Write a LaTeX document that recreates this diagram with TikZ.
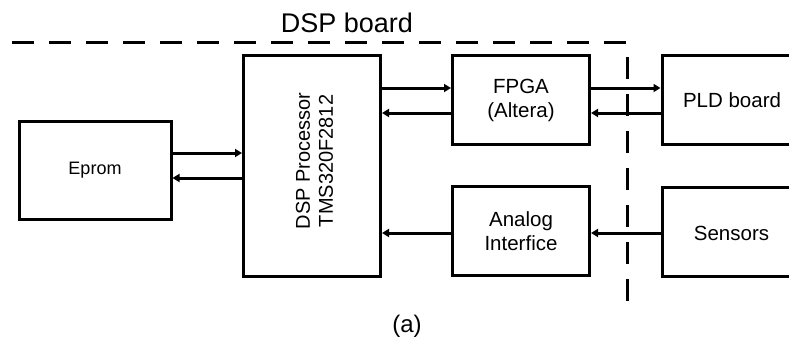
\documentclass[tikz,border=0pt]{standalone}
\usepackage{fontspec}
\setmainfont{Liberation Sans}
\usetikzlibrary{arrows.meta}
\tikzset{
  blk/.style={draw, line width=3pt, rectangle, inner sep=0pt, align=center},
  conn/.style={line width=3pt, -{Triangle[length=7pt,width=8pt]}},
  board/.style={line width=3pt, dash pattern=on 22pt off 15pt},
  txt/.style={font=\fontsize{20.5}{24}\selectfont}
}
\begin{document}
\begin{tikzpicture}[x=1pt,y=-1pt]
\fill[white] (0,0) rectangle (789,345);
\useasboundingbox (0,0) rectangle (789,345);
% boxes
\node[blk, minimum width=152pt, minimum height=98pt, font=\fontsize{18}{21}\selectfont] (eprom) at (95,170) {Eprom};
\node[blk, minimum width=137pt, minimum height=220pt] (dsp) at (312,166) {};
\node[rotate=90, align=center, font=\fontsize{20}{23}\selectfont] (dsptxt) at (314.5,161) {DSP Processor\\TMS320F2812};
\node[blk, txt, minimum width=137pt, minimum height=88pt] (fpga) at (521,100) {FPGA\\(Altera)};
\node[blk, txt, minimum width=137pt, minimum height=89pt] (analog) at (521,231) {Analog\\Interfice};
\node[blk, minimum width=160pt, minimum height=88pt] (pld) at (742,100) {};
\node[txt] (pldtxt) at (732,100) {PLD board};
\node[blk, minimum width=160pt, minimum height=89pt] (sens) at (742,232) {};
\node[txt] (senstxt) at (731.5,233) {Sensors};
% board outline
\coordinate (b1) at (12,43);
\coordinate (b2) at (627,43);
\coordinate (b3) at (627,303);
\draw[board] (b1) -- (b2) -- (b3);
\node[anchor=base, font=\fontsize{27}{30}\selectfont] (boardlbl) at (347,33) {DSP board};
\node[anchor=base, font=\fontsize{24}{28}\selectfont] (cap) at (407,332) {(a)};
% connectors
\draw[conn] (eprom.east |- 0,153) -- (dsp.west |- 0,153);
\draw[conn] (dsp.west |- 0,178) -- (eprom.east |- 0,178);
\draw[conn] (dsp.east |- 0,88) -- (fpga.west |- 0,88);
\draw[conn] (fpga.west |- 0,113) -- (dsp.east |- 0,113);
\draw[conn] (fpga.east |- 0,88) -- (pld.west |- 0,88);
\draw[conn] (pld.west |- 0,113) -- (fpga.east |- 0,113);
\draw[conn] (analog.west |- 0,233) -- (dsp.east |- 0,233);
\draw[conn] (sens.west |- 0,233) -- (analog.east |- 0,233);
\end{tikzpicture}
\end{document}
